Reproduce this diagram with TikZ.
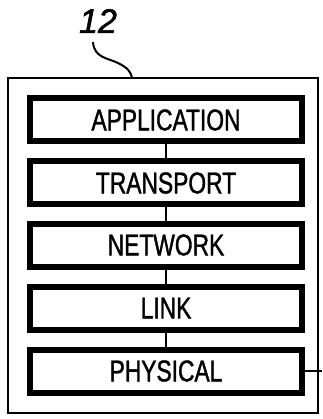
\documentclass[tikz,border=0pt]{standalone}
\usepackage{fontspec}
\setmainfont{Liberation Sans}
\newfontfamily\layerfont[FakeStretch=0.76,FakeBold=1.2]{Liberation Sans}
\newfontfamily\reffont[FakeBold=1.5]{Liberation Sans}
\begin{document}
\begin{tikzpicture}[x=1pt,y=-1pt,
  layer/.style={draw=black, line width=6pt, fill=white, minimum width=272pt, minimum height=43pt, inner sep=0pt, font=\layerfont\fontsize{30}{31}\selectfont},
  link/.style={draw=black, line width=1.8pt},
  outer/.style={draw=black, line width=1.4pt}]
\useasboundingbox (0,0) rectangle (322,419);
\draw[outer] (8,78) rectangle (318,413);
\node[layer] (app) at (166,120) {APPLICATION};
\node[layer] (tra) at (166,183) {TRANSPORT};
\node[layer] (net) at (166,245) {NETWORK};
\node[layer] (lnk) at (166,308) {LINK};
\node[layer] (phy) at (166,371) {PHYSICAL};
\draw[link] (app) -- (tra);
\draw[link] (tra) -- (net);
\draw[link] (net) -- (lnk);
\draw[link] (lnk) -- (phy);
\coordinate (rt) at (322,371);
\draw[link] (phy.east) -- (rt);
\node[font=\reffont\itshape\fontsize{34}{36}\selectfont, inner sep=0pt] (lbl) at (98,21) {12};
\coordinate (s0) at (93,42);
\coordinate (s1) at (132,78);
\draw[line width=2pt] (s0) .. controls (94,58) and (108,58) .. (118,63) .. controls (128,68) and (131,72) .. (s1);
\end{tikzpicture}
\end{document}
